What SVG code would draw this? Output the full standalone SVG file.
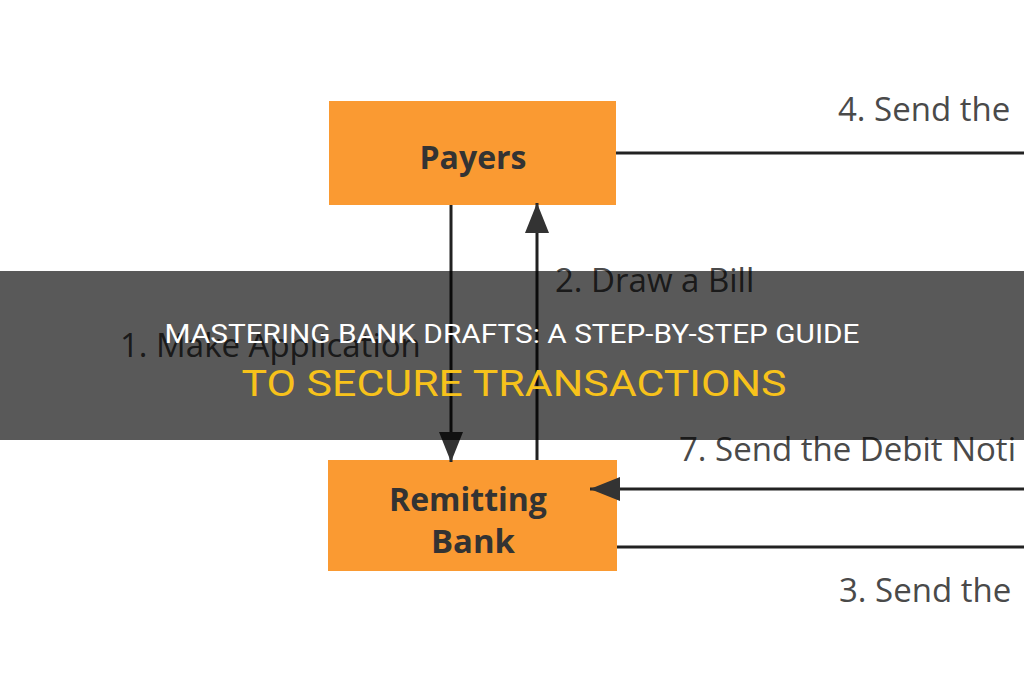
<svg xmlns="http://www.w3.org/2000/svg" width="1024" height="680" viewBox="0 0 1024 680">
<defs>
<style>
.box{fill:#FA9A32}
.nt{font-family:"Open Sans","Noto Sans",sans-serif;font-weight:bold;font-size:32px;fill:#333;text-anchor:middle}
.lb{font-family:"Open Sans","Noto Sans",sans-serif;font-size:33px;fill:#4a4a4a}
.ln{stroke:#222;stroke-width:3;fill:none}
.t1{font-family:Roboto,"Liberation Sans",sans-serif;font-size:26px;fill:#fff;text-anchor:middle}
.t2{font-family:Roboto,"Liberation Sans",sans-serif;font-size:36px;fill:#F7C21B;text-anchor:middle}
</style>
<marker id="ah" viewBox="0 0 30 24" refX="30" refY="12" markerWidth="30" markerHeight="24" markerUnits="userSpaceOnUse" orient="auto">
<path d="M0,0 L30,12 L0,24 Z" fill="#333"/>
</marker>
</defs>
<rect width="1024" height="680" fill="#fff"/>
<g id="payers">
<rect class="box" x="329" y="101" width="287" height="104"/>
<text class="nt" x="473" y="169">Payers</text>
</g>
<g id="remitting-bank">
<rect class="box" x="328" y="460" width="289" height="111"/>
<text class="nt" x="468" y="511">Remitting</text>
<text class="nt" x="473" y="553" textLength="84" lengthAdjust="spacingAndGlyphs">Bank</text>
</g>
<g id="connectors">
<line class="ln" x1="451" y1="205" x2="451" y2="462" marker-end="url(#ah)"/>
<line class="ln" x1="537" y1="460" x2="537" y2="203" marker-end="url(#ah)"/>
<line class="ln" x1="616" y1="153" x2="1024" y2="153"/>
<line class="ln" x1="1024" y1="489" x2="590" y2="489" marker-end="url(#ah)"/>
<line class="ln" x1="617" y1="547" x2="1024" y2="547"/>
<text class="lb" x="838" y="121">4. Send the</text>
<text class="lb" x="555" y="292">2. Draw a Bill</text>
<text class="lb" x="120" y="357">1. Make Application</text>
<text class="lb" x="679" y="461">7. Send the Debit Noti</text>
<text class="lb" x="839" y="602">3. Send the</text>
</g>
<g id="banner">
<rect x="0" y="271" width="1024" height="169" fill="#000" fill-opacity="0.65"/>
<text class="t1" x="512" y="343" textLength="695" lengthAdjust="spacingAndGlyphs">MASTERING BANK DRAFTS: A STEP-BY-STEP GUIDE</text>
<text class="t2" x="514" y="396" textLength="545" lengthAdjust="spacingAndGlyphs">TO SECURE TRANSACTIONS</text>
</g>
</svg>
